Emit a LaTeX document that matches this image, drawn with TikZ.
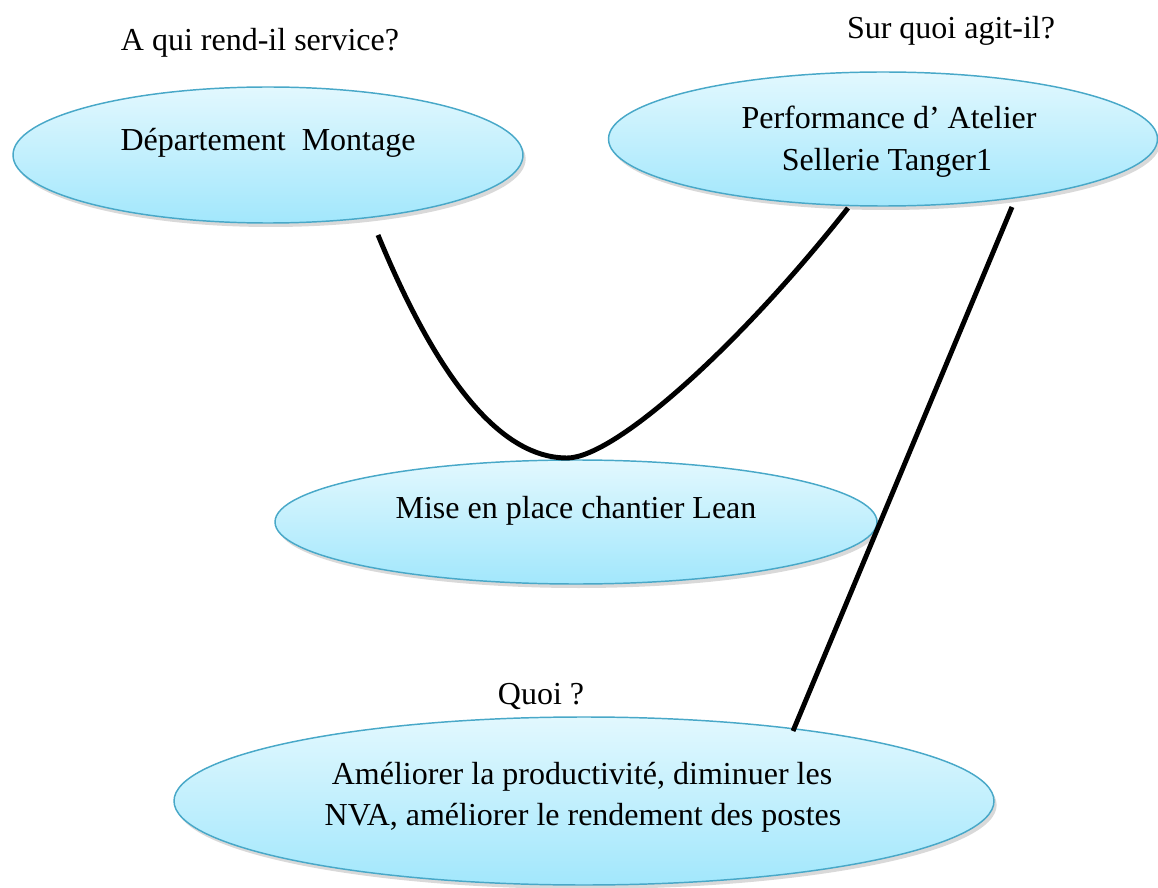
\documentclass[tikz,border=0pt]{standalone}
\usepackage{fontspec}
\setmainfont{Liberation Serif}
\usetikzlibrary{shadows,shapes.geometric}
\definecolor{elltop}{RGB}{226,248,254}
\definecolor{ellbot}{RGB}{162,231,252}
\definecolor{ellborder}{RGB}{72,168,200}
\tikzset{
  bubble/.style={ellipse, draw=ellborder, line width=1.1pt, top color=elltop, bottom color=ellbot,
    inner sep=0pt, drop shadow={shadow xshift=2pt, shadow yshift=-3pt, opacity=0.25, fill=black!60}},
  txt/.style={font=\fontsize{24}{31}\selectfont, align=center, inner sep=0pt, anchor=base},
  link/.style={line width=3.7pt, black, line cap=butt}
}
\begin{document}
\begin{tikzpicture}[x=0.75pt,y=-0.75pt]
\useasboundingbox (0,0) rectangle (1158,888);
% ellipses
\node[bubble, minimum width=510*0.75pt, minimum height=136*0.75pt] (dep) at (268,155) {};
\node[bubble, minimum width=549*0.75pt, minimum height=134*0.75pt] (perf) at (883,139) {};
\node[bubble, minimum width=602*0.75pt, minimum height=124*0.75pt] (mise) at (576,522) {};
\node[bubble, minimum width=820*0.75pt, minimum height=168*0.75pt] (amel) at (584,801) {};
% texts
\node[txt] (q1) at (260,51) {A qui rend-il service?};
\node[txt] (q2) at (951,39) {Sur quoi agit-il?};
\node[txt] (q3) at (541,704) {Quoi ?};
\node[txt] (tdep) at (268,151) {Département\ \ Montage};
\node[txt] (tperf1) at (889,129) {Performance d’ Atelier};
\node[txt] (tperf2) at (887,171) {Sellerie Tanger1};
\node[txt] (tmise) at (576,518) {Mise en place chantier Lean};
\node[txt] (tamel1) at (582,784) {Améliorer la productivité, diminuer les};
\node[txt] (tamel2) at (583,825) {NVA, améliorer le rendement des postes};
% connectors
\coordinate (c1) at (378,235);
\coordinate (c2) at (567,458);
\coordinate (c3) at (848,208);
\coordinate (c4) at (1012,207);
\coordinate (c5) at (793,731);
\draw[link] (c1) .. controls (450,410) and (515,458) .. (c2)
                 .. controls (615,458) and (740,345) .. (c3);
\draw[link] (c4) -- (c5);
\end{tikzpicture}
\end{document}
